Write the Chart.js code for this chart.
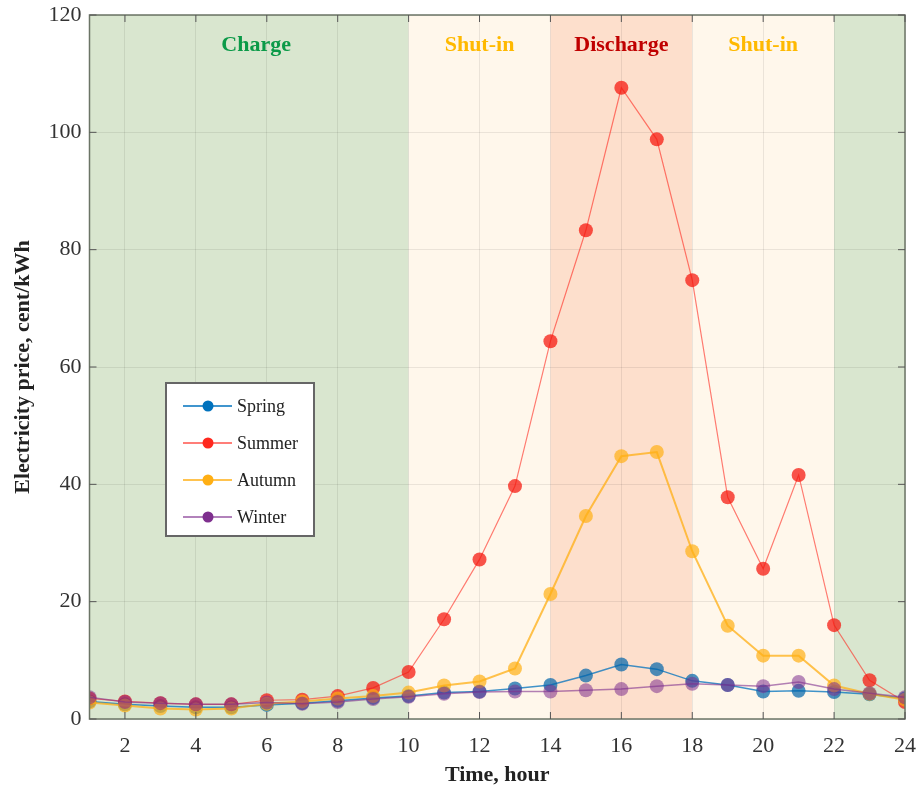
<!DOCTYPE html>
<html>
<head>
<meta charset="utf-8">
<script src="https://cdn.jsdelivr.net/npm/chart.js@4.4.1/dist/chart.umd.min.js"></script>
<style>
  html, body { margin: 0; padding: 0; background: #fff; }
  #wrap { width: 922px; height: 791px; }
</style>
</head>
<body>
<div id="wrap"><canvas id="priceChart"></canvas></div>
<script>
const hours = [1,2,3,4,5,6,7,8,9,10,11,12,13,14,15,16,17,18,19,20,21,22,23,24]
const xTicks = [2,4,6,8,10,12,14,16,18,20,22,24]
const yTicks = [0,20,40,60,80,100,120]

const spring = [3.0,2.5,2.2,2.0,2.0,2.4,2.7,3.1,3.6,3.9,4.5,4.7,5.2,5.8,7.4,9.3,8.5,6.5,5.8,4.7,4.8,4.6,4.2,3.5]
const summer = [3.5,3.0,2.7,2.5,2.5,3.2,3.3,3.9,5.3,8.0,17.0,27.2,39.7,64.4,83.3,107.6,98.8,74.8,37.8,25.6,41.6,16.0,6.6,2.9]
const autumn = [2.8,2.3,1.8,1.6,1.8,2.6,3.0,3.5,3.9,4.5,5.7,6.4,8.6,21.3,34.6,44.8,45.5,28.6,15.9,10.8,10.8,5.7,4.3,3.3]
const winter = [3.7,2.9,2.7,2.5,2.5,2.8,2.6,2.9,3.4,3.8,4.3,4.6,4.7,4.7,4.9,5.1,5.6,6.0,5.8,5.6,6.3,5.1,4.4,3.7]

// operating phases: [from hour, to hour]
const phaseFrom = [1, 10, 14, 18, 22]
const phaseTo = [10, 14, 18, 22, 24]
const phaseColor = ["#d9e6cf", "#fff7eb", "#fddfcc", "#fff7eb", "#d9e6cf"]
const phaseLabels = ["Charge", "Shut-in", "Discharge", "Shut-in"]
const phaseLabelAt = [5.7, 12, 16, 20]
const phaseLabelColor = ["#0b9a48", "#ffb900", "#c00000", "#ffb900"]

const serif = "'Liberation Serif', 'DejaVu Serif', serif"

function makeSeries(label, data, line, dot, width, order) {
  return {
    label: label,
    data: data.map((v, i) => ({ x: hours[i], y: v })),
    borderColor: line,
    backgroundColor: dot,
    borderWidth: width,
    pointRadius: 7,
    pointBorderWidth: 0,
    pointBackgroundColor: dot,
    lineTension: 0,
    fill: false,
    order: order
  }
}

let datasets = [
  makeSeries("Spring", spring, "rgba(0,114,189,0.75)", "rgba(0,100,170,0.7)", 1.5, 4),
  makeSeries("Summer", summer, "rgba(255,40,30,0.6)", "rgba(245,20,10,0.72)", 1.2, 3),
  makeSeries("Autumn", autumn, "rgba(255,175,20,0.75)", "rgba(255,175,20,0.7)", 2, 2),
  makeSeries("Winter", winter, "rgba(126,47,142,0.6)", "rgba(126,47,142,0.55)", 1.5, 1)
]

let backdrop = {
  id: "backdrop",
  beforeDraw(chart) {
    let ctx = chart.ctx
    let a = chart.chartArea
    let xs = chart.scales.x
    ctx.save()
    for (let i = 0; i < phaseFrom.length; i++) {
      let x0 = xs.getPixelForValue(phaseFrom[i])
      let x1 = xs.getPixelForValue(phaseTo[i])
      ctx.fillStyle = phaseColor[i]
      ctx.fillRect(x0, a.top, x1 - x0, a.bottom - a.top)
    }
    ctx.restore()
  },
  afterDatasetsDraw(chart) {
    let ctx = chart.ctx
    let a = chart.chartArea
    let xs = chart.scales.x
    let ys = chart.scales.y
    ctx.save()
    // frame
    ctx.strokeStyle = "#6b7466"
    ctx.lineWidth = 1.5
    ctx.strokeRect(a.left, a.top, a.right - a.left, a.bottom - a.top)
    // inward tick marks
    ctx.lineWidth = 1
    ctx.strokeStyle = "#555"
    xTicks.forEach(t => {
      let px = xs.getPixelForValue(t)
      ctx.beginPath()
      ctx.moveTo(px, a.bottom); ctx.lineTo(px, a.bottom - 7)
      ctx.moveTo(px, a.top); ctx.lineTo(px, a.top + 7)
      ctx.stroke()
    })
    yTicks.forEach(t => {
      let py = ys.getPixelForValue(t)
      ctx.beginPath()
      ctx.moveTo(a.left, py); ctx.lineTo(a.left + 7, py)
      ctx.moveTo(a.right, py); ctx.lineTo(a.right - 7, py)
      ctx.stroke()
    })
    // phase labels
    ctx.font = "bold 22px " + serif
    ctx.textAlign = "center"
    ctx.textBaseline = "middle"
    for (let i = 0; i < phaseLabels.length; i++) {
      ctx.fillStyle = phaseLabelColor[i]
      ctx.fillText(phaseLabels[i], xs.getPixelForValue(phaseLabelAt[i]), 45)
    }
    // legend box
    ctx.fillStyle = "#fff"
    ctx.fillRect(166, 383, 148, 153)
    ctx.strokeStyle = "#666"
    ctx.lineWidth = 2
    ctx.strokeRect(166, 383, 148, 153)
    ctx.font = "18px " + serif
    ctx.textAlign = "left"
    datasets.forEach((ds, i) => {
      let y = 406 + i * 37
      ctx.strokeStyle = ds.borderColor
      ctx.lineWidth = 2
      ctx.beginPath()
      ctx.moveTo(183, y); ctx.lineTo(232, y)
      ctx.stroke()
      ctx.fillStyle = ds.borderColor.replace(/[\d.]+\)$/, "1)")
      ctx.beginPath()
      ctx.arc(208, y, 5.5, 0, Math.PI * 2)
      ctx.fill()
      ctx.fillStyle = "#222"
      ctx.fillText(ds.label, 237, y + 1)
    })
    ctx.restore()
  }
}

let ctx = document.getElementById("priceChart").getContext("2d")
new Chart(ctx, {
  type: "line",
  data: { datasets: datasets },
  options: {
    responsive: true,
    maintainAspectRatio: false,
    animation: false,
    layout: { padding: { top: 15, right: 17, left: 0, bottom: 0 } },
    plugins: { legend: { display: false }, tooltip: { enabled: false } },
    scales: {
      x: {
        type: "linear",
        min: 1,
        max: 24,
        afterBuildTicks: axis => { axis.ticks = xTicks.map(v => ({ value: v })) },
        afterFit: axis => { axis.height = 72; axis.paddingLeft = 0; axis.paddingRight = 0 },
        grid: { color: "rgba(0,0,0,0.08)", drawTicks: false },
        border: { display: false },
        ticks: { color: "#333", font: { family: serif, size: 22 }, padding: 14, maxRotation: 0 },
        title: { display: true, text: "Time, hour", color: "#222", font: { family: serif, size: 22, weight: "bold" }, padding: { top: 0, bottom: 2 } }
      },
      y: {
        min: 0,
        max: 120,
        afterBuildTicks: axis => { axis.ticks = yTicks.map(v => ({ value: v })) },
        afterFit: axis => { axis.width = 89.5; axis.paddingTop = 0; axis.paddingBottom = 0 },
        grid: { color: "rgba(0,0,0,0.08)", drawTicks: false },
        border: { display: false },
        ticks: { color: "#333", font: { family: serif, size: 22 }, padding: 8 },
        title: { display: true, text: "Electricity price, cent/kWh", color: "#222", font: { family: serif, size: 22, weight: "bold" }, padding: { top: 10, bottom: 4 } }
      }
    }
  },
  plugins: [backdrop]
})
</script>
</body>
</html>
